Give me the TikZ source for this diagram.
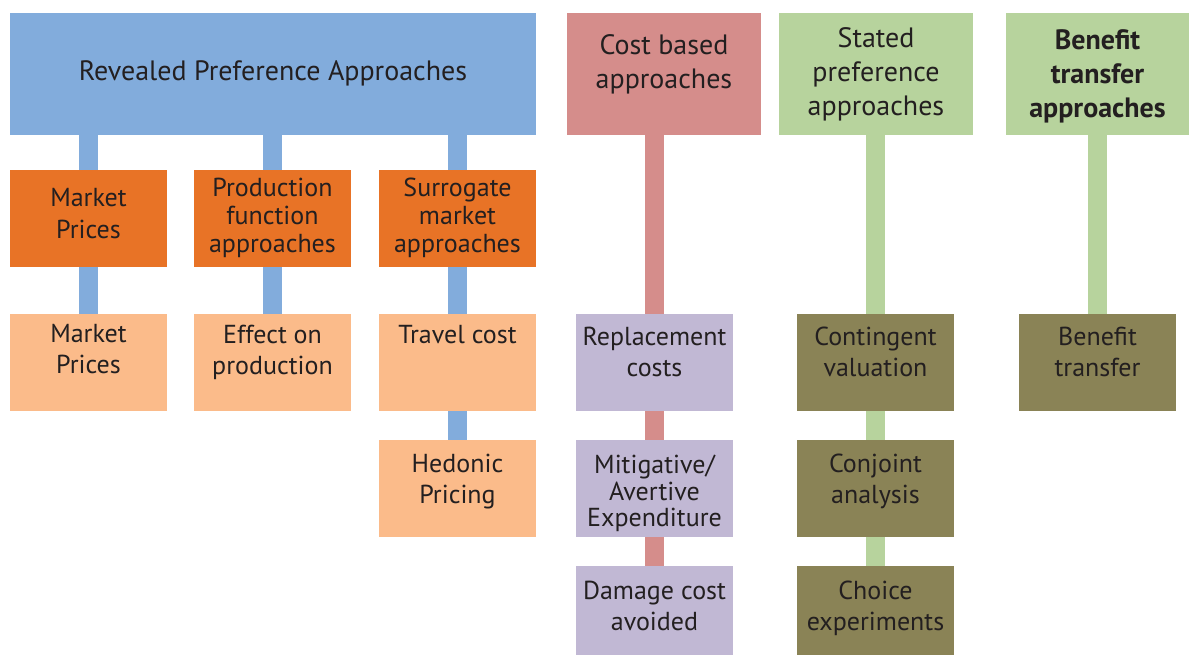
\documentclass[tikz,border=0pt]{standalone}
\usepackage{fontspec}
\setmainfont{PT Sans}
\usepackage{tikz}

\definecolor{rpblue}{HTML}{82ACDC}
\definecolor{rporange}{HTML}{E87326}
\definecolor{rplight}{HTML}{FBBB8A}
\definecolor{cbpink}{HTML}{D58D8B}
\definecolor{cblilac}{HTML}{C1B8D4}
\definecolor{spgreen}{HTML}{B7D39D}
\definecolor{spolive}{HTML}{8A8356}
\definecolor{txt}{HTML}{231F20}

% box of fixed height, text pushed down from the top
\newcommand{\celltxt}[3]{\vbox to #1{\vskip#2\hbox{\begin{tabular}{@{}c@{}}#3\end{tabular}}\vfil}}

\tikzset{
  cell/.style={inner sep=0pt, text=txt, font=\fontsize{13}{15.5}\selectfont},
  headbox/.style={cell, minimum height=61pt, font=\fontsize{14}{17}\selectfont},
  subbox/.style={cell, minimum width=78.5pt, minimum height=48.5pt},
  conn/.style={line width=9.5pt, draw=#1},
}

\begin{document}
\begin{tikzpicture}[x=0.5pt, y=-0.5pt]
\useasboundingbox (0,0) rectangle (1191,655);

% headers
\node[headbox, fill=rpblue, minimum width=263pt] (rp) at (273,74) {\celltxt{61pt}{22pt}{Revealed Preference Approaches}};
\node[headbox, fill=cbpink, minimum width=97pt] (cb) at (664,74) {\celltxt{61pt}{8.9pt}{Cost based\\approaches}};
\node[headbox, fill=spgreen, minimum width=97pt] (sp) at (876,74) {\celltxt{61pt}{5.2pt}{Stated\\preference\\approaches}};
\node[headbox, fill=spgreen, minimum width=91.5pt, font=\fontsize{14}{17}\selectfont\bfseries] (bt) at (1097.5,74) {\celltxt{61pt}{6.2pt}{Benefit\\transfer\\approaches}};

% revealed preference
\node[subbox, fill=rporange, font=\fontsize{13}{16}\selectfont] (mp) at (88.5,218.5) {\celltxt{48.5pt}{6.9pt}{Market\\Prices}};
\node[subbox, fill=rporange, font=\fontsize{13}{14}\selectfont] (pf) at (272.5,218.5) {\celltxt{48.5pt}{3.3pt}{Production\\function\\approaches}};
\node[subbox, fill=rporange, font=\fontsize{13}{14}\selectfont] (sm) at (457.5,218.5) {\celltxt{48.5pt}{3.3pt}{Surrogate\\market\\approaches}};
\node[subbox, fill=rplight] (mp2) at (88.5,362.5) {\celltxt{48.5pt}{3.5pt}{Market\\Prices}};
\node[subbox, fill=rplight] (ep) at (272.5,362.5) {\celltxt{48.5pt}{3.75pt}{Effect on\\production}};
\node[subbox, fill=rplight] (tc) at (457.5,362.5) {\celltxt{48.5pt}{3.75pt}{Travel cost}};
\node[subbox, fill=rplight] (hp) at (457.5,488.5) {\celltxt{48.5pt}{5.25pt}{Hedonic\\Pricing}};

% cost based
\node[subbox, fill=cblilac] (rc) at (654.5,362.5) {\celltxt{48.5pt}{4.75pt}{Replacement\\costs}};
\node[subbox, fill=cblilac, font=\fontsize{13}{12.75}\selectfont] (me) at (654.5,488.5) {\celltxt{48.5pt}{7.7pt}{Mitigative/\\Avertive\\Expenditure}};
\node[subbox, fill=cblilac, minimum height=44.5pt] (dc) at (654.5,610.5) {\celltxt{44.5pt}{5.75pt}{Damage cost\\avoided}};

% stated preference
\node[subbox, fill=spolive] (cv) at (875.5,362.5) {\celltxt{48.5pt}{4.75pt}{Contingent\\valuation}};
\node[subbox, fill=spolive] (ca) at (875.5,488.5) {\celltxt{48.5pt}{5.25pt}{Conjoint\\analysis}};
\node[subbox, fill=spolive, minimum height=44.5pt] (ce) at (875.5,610.5) {\celltxt{44.5pt}{5.75pt}{Choice\\experiments}};

% benefit transfer
\node[subbox, fill=spolive] (bt2) at (1097.5,362.5) {\celltxt{48.5pt}{4.75pt}{Benefit\\transfer}};

% connectors
\draw[conn=rpblue] (mp.north) -- (mp.north |- rp.south);
\draw[conn=rpblue] (pf.north) -- (pf.north |- rp.south);
\draw[conn=rpblue] (sm.north) -- (sm.north |- rp.south);
\draw[conn=rpblue] (mp.south) -- (mp2.north);
\draw[conn=rpblue] (pf.south) -- (ep.north);
\draw[conn=rpblue] (sm.south) -- (tc.north);
\draw[conn=rpblue] (tc.south) -- (hp.north);
\draw[conn=cbpink] (rc.north) -- (rc.north |- cb.south);
\draw[conn=cbpink] (rc.south) -- (me.north);
\draw[conn=cbpink] (me.south) -- (dc.north);
\draw[conn=spgreen] (cv.north) -- (cv.north |- sp.south);
\draw[conn=spgreen] (cv.south) -- (ca.north);
\draw[conn=spgreen] (ca.south) -- (ce.north);
\draw[conn=spgreen] (bt2.north) -- (bt2.north |- bt.south);
\end{tikzpicture}
\end{document}
